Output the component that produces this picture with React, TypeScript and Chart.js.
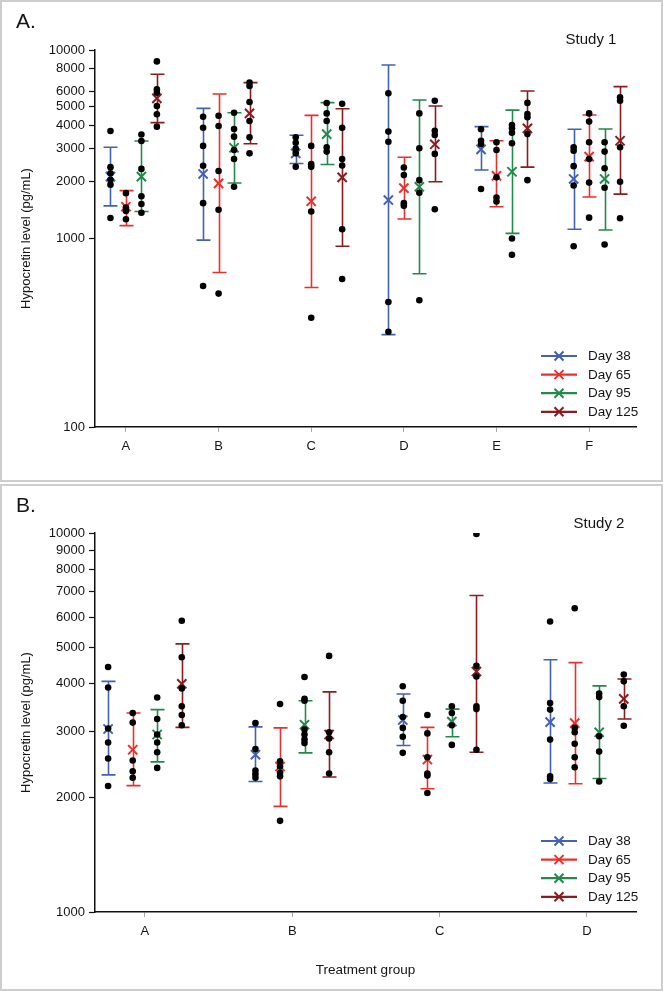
import React, { useEffect, useRef } from 'react';
import { Chart, registerables } from 'chart.js';

Chart.register(...registerables);

const FONT = '"Liberation Sans", Arial, Helvetica, sans-serif';
const TEXT = '#151515';

const DAYS = ['Day 38', 'Day 65', 'Day 95', 'Day 125'];
const DAY_COLORS = ['#4262b4', '#ec2f2a', '#22894a', '#8c1b1e'];

// ---------------- Study 1 ----------------
const S1_GROUPS = ['A', 'B', 'C', 'D', 'E', 'F'];
const S1_TICKS = [100, 1000, 2000, 3000, 4000, 5000, 6000, 8000, 10000];
const S1_OFFSETS = [-0.167, 0, 0.167, 0.334];

const S1_D38_MEAN = [2130, 2200, 2830, 1600, 2970, 2070];
const S1_D38_LO = [1490, 980, 2500, 309, 2310, 1120];
const S1_D38_HI = [3050, 4900, 3530, 8330, 3920, 3800];
const S1_D38_PTS = [
  [3715, 2390, 2220, 2050, 1930, 1285],
  [4425, 3870, 3100, 2430, 1540, 560],
  [3440, 3220, 3000, 2830, 2400],
  [5890, 3690, 3260, 460, 320],
  [3800, 3300, 3170, 1830],
  [3050, 2920, 2420, 1910, 910],
];

const S1_D65_MEAN = [1475, 1960, 1575, 1850, 2150, 2720];
const S1_D65_LO = [1170, 660, 550, 1270, 1475, 1660];
const S1_D65_HI = [1795, 5840, 4500, 2700, 3300, 4520];
const S1_D65_PTS = [
  [1740, 1460, 1400, 1265],
  [4480, 3950, 2280, 1420, 510],
  [3100, 2480, 2400, 1390, 380],
  [2380, 2170, 1540, 1490],
  [3240, 2950, 2110, 1650, 1570],
  [4610, 4170, 3240, 2640, 1980, 1290],
];

const S1_D95_MEAN = [2130, 3030, 3580, 1880, 2260, 2070];
const S1_D95_LO = [1390, 1970, 2470, 650, 1065, 1110];
const S1_D95_HI = [3290, 4650, 5260, 5430, 4800, 3810];
const S1_D95_PTS = [
  [3560, 3290, 2340, 1675, 1525, 1370],
  [4650, 3810, 3470, 2950, 2640, 1880],
  [5230, 4610, 4200, 3050, 2890],
  [4610, 3010, 2040, 1750, 470],
  [4000, 3840, 3640, 3200, 1000, 820],
  [3240, 2890, 2360, 1860, 930],
];

const S1_D125_MEAN = [5540, 4610, 2110, 3160, 3840, 3300];
const S1_D125_LO = [4120, 3180, 910, 2000, 2390, 1720];
const S1_D125_HI = [7430, 6710, 4880, 5050, 6060, 6390];
const S1_D125_PTS = [
  [8700, 6180, 5940, 5050, 4560, 3920],
  [6710, 6440, 5300, 4200, 3440, 2830],
  [5190, 3870, 2640, 2440, 1120, 610],
  [5380, 3730, 3540, 2810, 1430],
  [5240, 4580, 4400, 3580, 2040],
  [5610, 5380, 3050, 2000, 1280],
];

// ---------------- Study 2 ----------------
const S2_GROUPS = ['A', 'B', 'C', 'D'];
const S2_TICKS = [1000, 2000, 3000, 4000, 5000, 6000, 7000, 8000, 9000, 10000];
const S2_OFFSETS = [-0.25, -0.083, 0.083, 0.25];

const S2_D38_MEAN = [3040, 2600, 3210, 3170];
const S2_D38_LO = [2300, 2210, 2750, 2190];
const S2_D38_HI = [4060, 3080, 3760, 4630];
const S2_D38_PTS = [
  [4430, 3910, 3050, 2800, 2540, 2150],
  [3150, 2690, 2360, 2310, 2260],
  [3940, 3610, 3270, 3060, 2900, 2630],
  [5840, 3560, 3420, 2850, 2280, 2245],
];

const S2_D65_MEAN = [2680, 2420, 2525, 3150];
const S2_D65_LO = [2155, 1900, 2115, 2180];
const S2_D65_HI = [3350, 3060, 3070, 4550];
const S2_D65_PTS = [
  [3350, 3160, 2510, 2350, 2260],
  [3540, 2500, 2420, 2330, 2280, 1740],
  [3310, 2960, 2560, 2320, 2290, 2060],
  [6330, 3060, 2980, 2780, 2560, 2410],
];

const S2_D95_MEAN = [2940, 3120, 3180, 2980];
const S2_D95_LO = [2490, 2630, 2900, 2250];
const S2_D95_HI = [3420, 3610, 3430, 3950];
const S2_D95_PTS = [
  [3680, 3230, 2940, 2800, 2640, 2400],
  [4170, 3650, 3610, 3030, 2940, 2850, 2790],
  [3490, 3350, 3110, 2760],
  [3770, 3690, 2910, 2650, 2210],
];

const S2_D125_MEAN = [4000, 2940, 4310, 3650];
const S2_D125_LO = [3070, 2270, 2640, 3230];
const S2_D125_HI = [5100, 3810, 6840, 4120];
const S2_D125_PTS = [
  [5870, 4700, 3890, 3490, 3310, 3110],
  [4740, 2980, 2870, 2640, 2320],
  [9940, 4460, 4180, 3490, 3430, 2680],
  [4230, 4060, 3490, 3100],
];

type Series = { mean: number[]; lo: number[]; hi: number[]; pts: number[][] };

const S1_SERIES: Series[] = [
  { mean: S1_D38_MEAN, lo: S1_D38_LO, hi: S1_D38_HI, pts: S1_D38_PTS },
  { mean: S1_D65_MEAN, lo: S1_D65_LO, hi: S1_D65_HI, pts: S1_D65_PTS },
  { mean: S1_D95_MEAN, lo: S1_D95_LO, hi: S1_D95_HI, pts: S1_D95_PTS },
  { mean: S1_D125_MEAN, lo: S1_D125_LO, hi: S1_D125_HI, pts: S1_D125_PTS },
];
const S2_SERIES: Series[] = [
  { mean: S2_D38_MEAN, lo: S2_D38_LO, hi: S2_D38_HI, pts: S2_D38_PTS },
  { mean: S2_D65_MEAN, lo: S2_D65_LO, hi: S2_D65_HI, pts: S2_D65_PTS },
  { mean: S2_D95_MEAN, lo: S2_D95_LO, hi: S2_D95_HI, pts: S2_D95_PTS },
  { mean: S2_D125_MEAN, lo: S2_D125_LO, hi: S2_D125_HI, pts: S2_D125_PTS },
];

type PanelCfg = {
  width: number;
  height: number;
  groups: string[];
  series: Series[];
  offsets: number[];
  xMin: number;
  xMax: number;
  yMin: number;
  yMax: number;
  yTicks: number[];
  padTop: number;
  padRight: number;
  yWidth: number;
  xHeight: number;
  xTitle: string | null;
  letter: string;
  study: string;
  studyX: number;
};

function buildChart(canvas: HTMLCanvasElement, cfg: PanelCfg) {
  const datasets: any[] = [];
  cfg.series.forEach((s, j) => {
    datasets.push({
      label: DAYS[j] + ' points',
      data: s.pts.flatMap((arr, i) => arr.map((v) => ({ x: i + cfg.offsets[j], y: v }))),
      pointRadius: 3.3,
      pointBackgroundColor: '#000',
      pointBorderWidth: 0,
      showLine: false,
      order: 0,
    });
  });
  cfg.series.forEach((s, j) => {
    datasets.push({
      label: DAYS[j],
      data: s.mean.map((v, i) => ({ x: i + cfg.offsets[j], y: v })),
      pointStyle: 'crossRot',
      pointRadius: 6.5,
      pointBorderColor: DAY_COLORS[j],
      pointBackgroundColor: DAY_COLORS[j],
      pointBorderWidth: 2,
      showLine: false,
      order: 1,
    });
  });

  const errorBars = {
    id: 'errorBars',
    beforeDatasetsDraw(chart: any) {
      const { ctx, scales } = chart;
      const x = scales.x;
      const y = scales.y;
      const cap = 7;
      cfg.series.forEach((s, j) => {
        ctx.save();
        ctx.strokeStyle = DAY_COLORS[j];
        ctx.lineWidth = 1.6;
        s.lo.forEach((lo, i) => {
          const px = Math.round(x.getPixelForValue(i + cfg.offsets[j])) + 0.5;
          const y1 = y.getPixelForValue(lo);
          const y2 = y.getPixelForValue(s.hi[i]);
          ctx.beginPath();
          ctx.moveTo(px, y1);
          ctx.lineTo(px, y2);
          ctx.moveTo(px - cap, y1);
          ctx.lineTo(px + cap, y1);
          ctx.moveTo(px - cap, y2);
          ctx.lineTo(px + cap, y2);
          ctx.stroke();
        });
        ctx.restore();
      });
    },
  };

  const decorations = {
    id: 'decorations',
    afterDraw(chart: any) {
      const { ctx, chartArea } = chart;
      ctx.save();
      ctx.fillStyle = TEXT;
      ctx.textBaseline = 'middle';
      ctx.textAlign = 'left';
      ctx.font = `21px ${FONT}`;
      ctx.fillText(cfg.letter, 16, 22);
      ctx.textAlign = 'center';
      ctx.font = `15px ${FONT}`;
      ctx.fillText(cfg.study, cfg.studyX, 40);
      // legend
      const rowY0 = chartArea.bottom - 71;
      const rowGap = 18.6;
      DAYS.forEach((d, j) => {
        const yy = rowY0 + j * rowGap;
        ctx.strokeStyle = DAY_COLORS[j];
        ctx.lineWidth = 2.2;
        ctx.beginPath();
        ctx.moveTo(541, yy);
        ctx.lineTo(577, yy);
        ctx.stroke();
        ctx.lineWidth = 2;
        const r = 4.5;
        ctx.beginPath();
        ctx.moveTo(559 - r, yy - r);
        ctx.lineTo(559 + r, yy + r);
        ctx.moveTo(559 - r, yy + r);
        ctx.lineTo(559 + r, yy - r);
        ctx.stroke();
        ctx.fillStyle = TEXT;
        ctx.textAlign = 'left';
        ctx.font = `13.5px ${FONT}`;
        ctx.fillText(d, 588, yy + 0.5);
      });
      ctx.restore();
    },
  };

  return new Chart(canvas, {
    type: 'scatter',
    data: { datasets },
    plugins: [errorBars, decorations],
    options: {
      animation: false,
      responsive: false,
      devicePixelRatio: 1,
      layout: { padding: { top: cfg.padTop, right: cfg.padRight, left: 0, bottom: 0 } },
      plugins: { legend: { display: false }, tooltip: { enabled: false } },
      scales: {
        x: {
          type: 'linear',
          min: cfg.xMin,
          max: cfg.xMax,
          afterBuildTicks: (scale: any) => {
            scale.ticks = cfg.groups.map((_, i) => ({ value: i }));
          },
          afterFit: (scale: any) => {
            scale.height = cfg.xHeight;
          },
          ticks: {
            autoSkip: false,
            maxRotation: 0,
            padding: 7,
            color: TEXT,
            font: { family: FONT, size: 13 },
            callback: (v: any) => cfg.groups[Math.round(Number(v))] ?? '',
          },
          grid: {
            drawOnChartArea: false,
            drawTicks: true,
            tickLength: 5,
            tickColor: '#a8a8a8',
            tickWidth: 1,
          },
          border: { display: true, color: '#111', width: 1.5 },
          title: {
            display: !!cfg.xTitle,
            text: cfg.xTitle || '',
            color: TEXT,
            font: { family: FONT, size: 13.5 },
            padding: { top: 0, bottom: 13 },
          },
        },
        y: {
          type: 'logarithmic',
          min: cfg.yMin,
          max: cfg.yMax,
          afterBuildTicks: (scale: any) => {
            scale.ticks = cfg.yTicks.map((v) => ({ value: v }));
          },
          afterFit: (scale: any) => {
            scale.width = cfg.yWidth;
          },
          ticks: {
            autoSkip: false,
            padding: 4,
            color: TEXT,
            font: { family: FONT, size: 13 },
            callback: (v: any) => String(v),
          },
          grid: {
            drawOnChartArea: false,
            drawTicks: true,
            tickLength: 6,
            tickColor: '#111',
            tickWidth: 1.2,
          },
          border: { display: true, color: '#111', width: 1.5 },
          title: {
            display: true,
            text: 'Hypocretin level (pg/mL)',
            color: TEXT,
            font: { family: FONT, size: 13 },
            padding: { top: 19, bottom: 0 },
          },
        },
      },
    } as any,
  });
}

const PANEL_A: PanelCfg = {
  width: 663,
  height: 482,
  groups: S1_GROUPS,
  series: S1_SERIES,
  offsets: S1_OFFSETS,
  xMin: -0.334,
  xMax: 5.506,
  yMin: 100,
  yMax: 10000,
  yTicks: S1_TICKS,
  padTop: 50,
  padRight: 27,
  yWidth: 95,
  xHeight: 55,
  xTitle: null,
  letter: 'A.',
  study: 'Study 1',
  studyX: 591,
};

const PANEL_B: PanelCfg = {
  width: 663,
  height: 507,
  groups: S2_GROUPS,
  series: S2_SERIES,
  offsets: S2_OFFSETS,
  xMin: -0.339,
  xMax: 3.333,
  yMin: 1000,
  yMax: 10000,
  yTicks: S2_TICKS,
  padTop: 49,
  padRight: 27,
  yWidth: 95,
  xHeight: 79,
  xTitle: 'Treatment group',
  letter: 'B.',
  study: 'Study 2',
  studyX: 599,
};

function Panel({ cfg, top }: { cfg: PanelCfg; top: number }) {
  const ref = useRef<HTMLCanvasElement>(null);
  useEffect(() => {
    if (!ref.current) return;
    const chart = buildChart(ref.current, cfg);
    return () => chart.destroy();
  }, [cfg]);
  return (
    <div style={{ position: 'absolute', left: 0, top, width: cfg.width, height: cfg.height }}>
      <div
        style={{
          position: 'absolute',
          inset: 0,
          border: '2px solid #cdcdcd',
          boxSizing: 'border-box',
        }}
      />
      <canvas
        ref={ref}
        width={cfg.width}
        height={cfg.height}
        style={{ position: 'absolute', left: 0, top: 0, width: cfg.width, height: cfg.height }}
      />
    </div>
  );
}

export default function App() {
  return (
    <div
      style={{
        position: 'absolute',
        left: 0,
        top: 0,
        width: 663,
        height: 991,
        background: '#fff',
        overflow: 'hidden',
      }}
    >
      <Panel cfg={PANEL_A} top={0} />
      <Panel cfg={PANEL_B} top={484} />
    </div>
  );
}
